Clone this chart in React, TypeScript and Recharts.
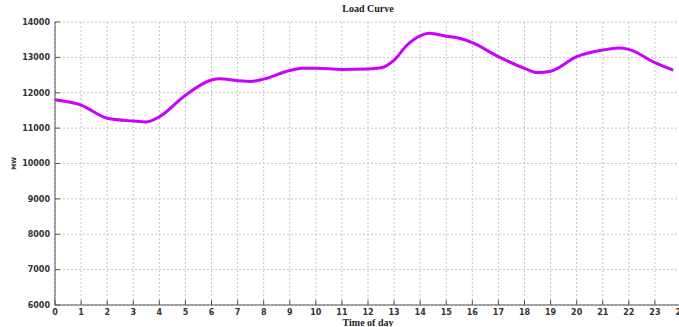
import React from "react"
import { LineChart, Line, XAxis, YAxis, CartesianGrid } from "recharts"

const hours = [0, 1, 2, 3, 3.5, 4, 5, 6, 6.3, 7, 7.5, 8, 9, 9.5, 10, 11, 12, 12.5, 13, 13.5, 14, 14.35, 15, 15.5, 16, 17, 18, 18.5, 19, 20, 21, 21.6, 22, 23, 23.7]
const load = [11800, 11650, 11280, 11200, 11175, 11320, 11930, 12360, 12395, 12340, 12320, 12385, 12630, 12690, 12690, 12660, 12670, 12705, 12924, 13350, 13610, 13680, 13600, 13540, 13415, 13020, 12690, 12570, 12610, 13020, 13207, 13265, 13225, 12850, 12640]

const xTicks = Array.from({ length: 25 }, (_, i) => i)
const yTicks = [6000, 7000, 8000, 9000, 10000, 11000, 12000, 13000, 14000]

const data = hours.map((h, i) => ({ hour: h, load: load[i] }))

const tickFont = { fontSize: 8, fontFamily: "DejaVu Sans", fontWeight: "bold", fill: "#333" }
const axisColor = "#555"

const MwLabel = (props: any) => {
  const vb = props.viewBox || {}
  const cx = 13
  const cy = vb.y + vb.height / 2
  return (
    <text
      x={cx}
      y={cy}
      transform={`rotate(-90 ${cx} ${cy})`}
      textAnchor="middle"
      dominantBaseline="central"
      fontSize={6}
      fontFamily="DejaVu Sans"
      fontWeight="bold"
      fill="#333"
    >
      MW
    </text>
  )
}

export default function App() {
  return (
    <div style={{ position: "absolute", left: 0, top: 0, width: 679, height: 327, overflow: "hidden", background: "#fff" }}>
      <div
        style={{
          position: "absolute",
          left: 318,
          top: 3,
          width: 100,
          textAlign: "center",
          fontFamily: "Liberation Serif",
          fontWeight: "bold",
          fontSize: 10,
          color: "#222",
        }}
      >
        Load Curve
      </div>
      <LineChart width={700} height={327} data={data} margin={{ top: 22, right: 19, left: 0, bottom: 0 }}>
        <CartesianGrid
          xAxisId="bottom"
          yAxisId="left"
          stroke="#c4c4c4"
          strokeDasharray="2 2"
          verticalValues={xTicks}
          horizontalValues={yTicks}
        />
        <XAxis
          xAxisId="bottom"
          dataKey="hour"
          type="number"
          domain={[0, 24]}
          ticks={xTicks}
          interval={0}
          height={22}
          tickSize={-5}
          tickMargin={9}
          tick={tickFont}
          stroke={axisColor}
          label={{
            value: "Time of day",
            position: "insideBottom",
            offset: 1,
            style: { fontFamily: "Liberation Serif", fontWeight: "bold", fontSize: 10, fill: "#222" },
          }}
        />
        <XAxis
          xAxisId="top"
          orientation="top"
          dataKey="hour"
          type="number"
          domain={[0, 24]}
          ticks={xTicks}
          interval={0}
          height={0}
          tickSize={-5}
          tick={false}
          stroke={axisColor}
        />
        <YAxis
          yAxisId="left"
          domain={[6000, 14000]}
          ticks={yTicks}
          interval={0}
          width={55}
          tickSize={-5}
          tickMargin={10}
          tick={tickFont}
          stroke={axisColor}
          label={<MwLabel />}
        />
        <YAxis
          yAxisId="right"
          orientation="right"
          domain={[6000, 14000]}
          ticks={yTicks}
          width={0}
          tickSize={-5}
          tick={false}
          stroke={axisColor}
        />
        <Line
          xAxisId="bottom"
          yAxisId="left"
          dataKey="load"
          type="monotone"
          stroke="#cc00ff"
          strokeWidth={3}
          dot={false}
          isAnimationActive={false}
        />
      </LineChart>
    </div>
  )
}
